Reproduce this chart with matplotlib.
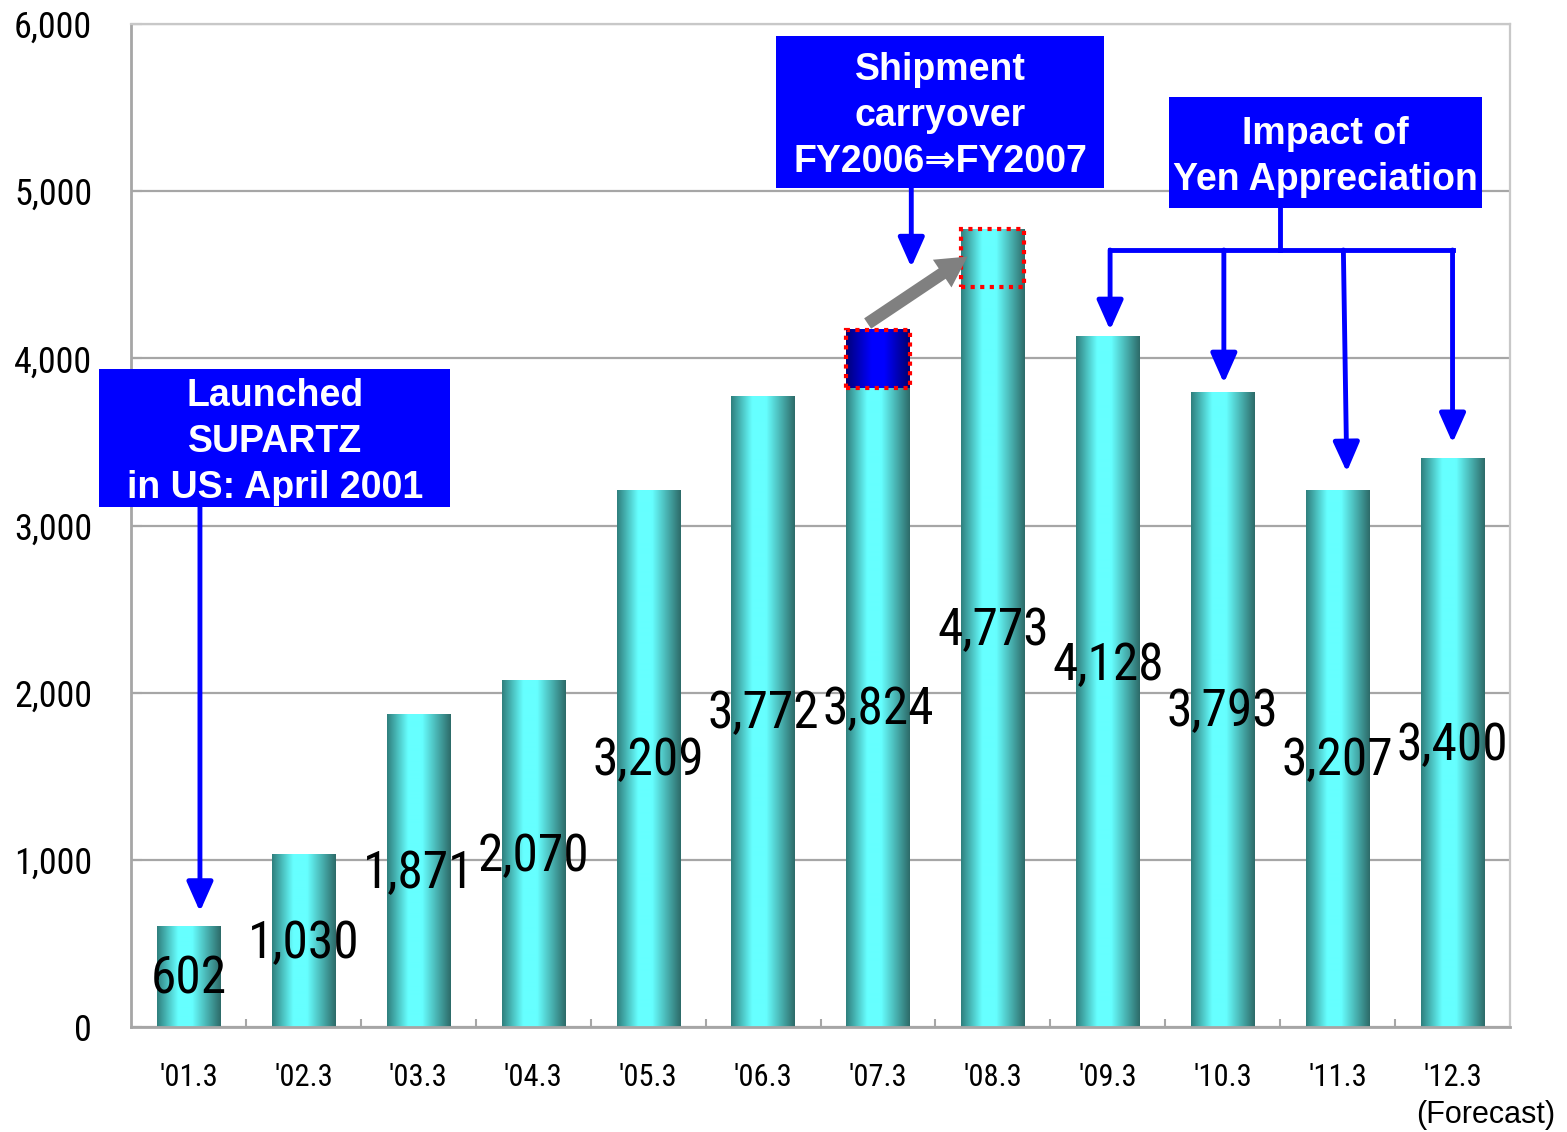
import numpy as np
import matplotlib.pyplot as plt
from matplotlib import font_manager
from matplotlib.patches import Rectangle, FancyArrowPatch
from matplotlib.colors import LinearSegmentedColormap

# --- Data ---
periods = ["'01.3", "'02.3", "'03.3", "'04.3", "'05.3", "'06.3",
           "'07.3", "'08.3", "'09.3", "'10.3", "'11.3", "'12.3"]
units = [602, 1030, 1871, 2070, 3209, 3772, 3824, 4773, 4128, 3793, 3207, 3400]
carryover = 347          # shipments moved from FY2006 into FY2007

# vertical centre of each value label
label_pos = [311, 520, 939, 1041, 1615, 1896, 1920, 2393, 2183, 1908, 1615, 1705]

# --- Fonts ---
installed = {f.name for f in font_manager.fontManager.ttflist}
narrow = next((f for f in ["Liberation Sans Narrow", "Roboto Condensed", "DejaVu Sans"]
               if f in installed), "DejaVu Sans")
narrow_kw = dict(family=narrow, fontstretch="condensed")
bold_family = ["Liberation Sans", "DejaVu Sans"]

BLUE = "#0000ff"
GRID = "#a6a6a6"

cyl = LinearSegmentedColormap.from_list(
    "cyl", [(0, "#2f7f7d"), (0.33, "#66ffff"), (0.55, "#66ffff"), (1, "#2d6a68")])
navy = LinearSegmentedColormap.from_list(
    "navy", [(0, "#000078"), (0.4, "#0000ff"), (0.6, "#0000ff"), (1, "#000070")])

fig = plt.figure(figsize=(15.67, 11.32), dpi=100)
ax = fig.add_axes([131 / 1567, 105 / 1132, 1379 / 1567, 1003 / 1132])

grad = np.linspace(0, 1, 256).reshape(1, -1)


def shade(x0, x1, y0, y1, cmap, z=2):
    ax.imshow(grad, cmap=cmap, extent=[x0, x1, y0, y1], aspect="auto",
              zorder=z, interpolation="bilinear")


w = 0.55
x = np.arange(len(units))
for xi, v in zip(x, units):
    shade(xi - w / 2, xi + w / 2, 0, v, cyl)

# carryover block on FY2006 and its destination on FY2007
i06, i07 = 6, 7
shade(i06 - w / 2, i06 + w / 2, units[i06], units[i06] + carryover, navy, z=3)
for xi, y0 in [(i06, units[i06]), (i07, units[i07] - carryover)]:
    ax.add_patch(Rectangle((xi - w / 2, y0), w, carryover, fill=False,
                           edgecolor="#ff0000", lw=3, linestyle=(0, (1, 1.3)), zorder=4))
ax.add_patch(FancyArrowPatch((5.89, 4199), (6.80, 4618),
                             arrowstyle="simple,head_width=2.4,head_length=2.2,tail_width=0.9",
                             mutation_scale=10, color="#808080", zorder=5, lw=0))

# value labels
for xi, v, yp in zip(x, units, label_pos):
    ax.annotate(f"{v:,}", xy=(xi, yp), xytext=(0, -3), textcoords="offset points",
                ha="center", va="center", fontsize=37, zorder=6, **narrow_kw)

# axes styling
ax.set_xlim(-0.5, len(units) - 0.5)
ax.set_ylim(0, 6000)
ax.set_yticks(range(0, 6001, 1000))
ax.set_yticklabels([f"{v:,}" for v in range(0, 6001, 1000)], fontsize=26, **narrow_kw)
ax.set_xticks(x)
ax.set_xticklabels(periods, fontsize=22, **narrow_kw)
ax.set_xticks(x[:-1] + 0.5, minor=True)
ax.tick_params(axis="x", which="major", length=0, pad=26)
ax.tick_params(axis="x", which="minor", direction="in", length=6, width=1.5, color=GRID)
ax.tick_params(axis="y", direction="in", length=8, width=1.5, color=GRID, pad=28)
ax.yaxis.grid(True, color=GRID, lw=1.6)
ax.set_axisbelow(True)
for side in ["left", "bottom"]:
    ax.spines[side].set_color(GRID)
    ax.spines[side].set_linewidth(2)
for side in ["top", "right"]:
    ax.spines[side].set_color("#c8c8c8")
    ax.spines[side].set_linewidth(1.6)

ax.annotate("(Forecast)", xy=(11, 0), xycoords=("data", "axes fraction"),
            xytext=(24, -63), textcoords="offset points", ha="center", va="center",
            fontsize=22, family="Liberation Sans")

# --- Callout boxes ---
def callout(x0, x1, y0, y1, text):
    ax.add_patch(Rectangle((x0, y0), x1 - x0, y1 - y0, facecolor=BLUE,
                           edgecolor="none", zorder=7, clip_on=False))
    ax.annotate(text, xy=((x0 + x1) / 2, (y0 + y1) / 2), xytext=(0, -3),
                textcoords="offset points", ha="center", va="center",
                color="white", fontsize=27, fontweight="bold", family=bold_family,
                linespacing=1.35, zorder=8, annotation_clip=False)


def arrow(x0, y0, x1, y1):
    ax.annotate("", xy=(x1, y1), xytext=(x0, y0), zorder=6,
                arrowprops=dict(arrowstyle="-|>,head_length=0.45,head_width=0.2",
                                mutation_scale=40, lw=3.5, color=BLUE,
                                shrinkA=0, shrinkB=0))


callout(-0.78, 2.28, 3111, 3936, "Launched\nSUPARTZ\nin US: April 2001")
arrow(0.10, 3111, 0.10, 690)

callout(5.11, 7.97, 5019, 5928, "Shipment\ncarryover\nFY2006\u21d2FY2007")
arrow(6.29, 5019, 6.29, 4545)

callout(8.53, 11.26, 4899, 5563, "Impact of\nYen Appreciation")
ax.plot([9.5, 9.5], [4899, 4648], color=BLUE, lw=3.5, zorder=6, solid_capstyle="projecting")
ax.plot([8.02, 11.0], [4648, 4648], color=BLUE, lw=3.5, zorder=6, solid_capstyle="projecting")
for xs, xe, tip in [(8.02, 8.02, 4169), (9.01, 9.01, 3852), (10.05, 10.08, 3320), (11.0, 11.0, 3494)]:
    arrow(xs, 4648, xe, tip)

fig.savefig("out.png", dpi=100)
